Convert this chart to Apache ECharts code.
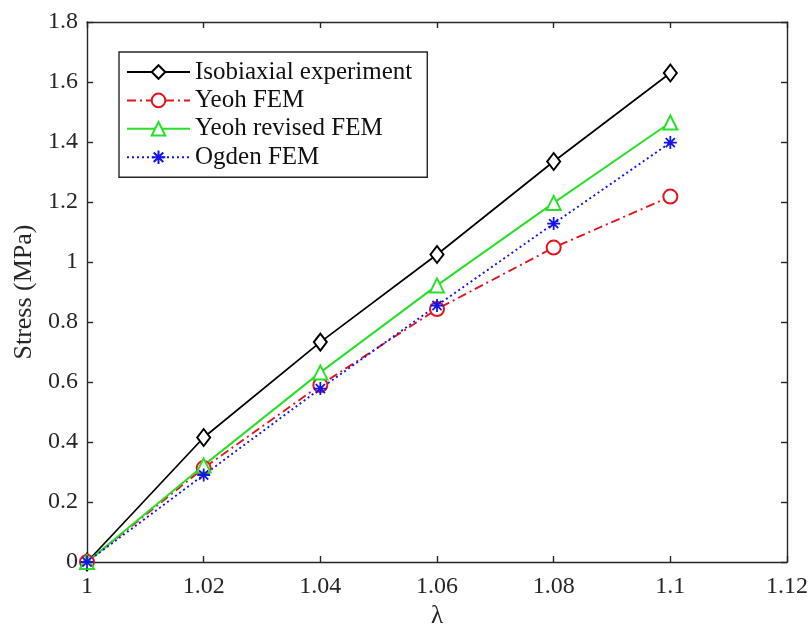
<!DOCTYPE html>
<html><head><meta charset="utf-8">
<script src="https://cdn.jsdelivr.net/npm/echarts@6/dist/echarts.min.js"></script>
<style>html,body{margin:0;padding:0;background:#fff}#c{width:811px;height:625px}</style>
</head><body><div id="c"></div>
<script>
const lambda = [1, 1.02, 1.04, 1.06, 1.08, 1.1];
const isobiaxial = [0, 0.415, 0.733, 1.025, 1.335, 1.63];
const yeohFEM = [0, 0.313, 0.59, 0.843, 1.048, 1.218];
const yeohRevised = [0, 0.322, 0.632, 0.922, 1.197, 1.465];
const ogdenFEM = [0, 0.29, 0.578, 0.855, 1.128, 1.398];
const xTicks = [1, 1.02, 1.04, 1.06, 1.08, 1.1, 1.12];
const yTicks = [0, 0.2, 0.4, 0.6, 0.8, 1, 1.2, 1.4, 1.6, 1.8];

const font = 'Liberation Serif';
const star = 'path://M0,-10L0,10M-10,0L10,0M-7,-7L7,7M-7,7L7,-7';
const pair = a => lambda.map((x, i) => [x, a[i]]);
const fmt = v => { const r = Math.round(v * 100) / 100; return String(r); };

const chart = echarts.init(document.getElementById('c'));
const axisCommon = {
  type: 'value',
  axisLine: { show: true, onZero: false, lineStyle: { color: '#262626', width: 1.4 } },
  axisTick: { show: true, inside: true, length: 6, lineStyle: { color: '#262626', width: 1.4 } },
  splitLine: { show: false }
};
chart.setOption({
  animation: false,
  grid: { left: 87, top: 22, right: 24, bottom: 63, containLabel: false, outerBoundsMode: 'none' },
  legend: {
    left: 119, top: 52, orient: 'vertical',
    backgroundColor: '#fff',
    borderColor: '#262626', borderWidth: 1.4,
    padding: [7, 15, 7, 7],
    itemWidth: 63, itemHeight: 17, itemGap: 2.4,
    textStyle: { fontFamily: font, fontSize: 25, lineHeight: 26, color: '#111' },
    data: ['Isobiaxial experiment', 'Yeoh FEM', 'Yeoh revised FEM', 'Ogden FEM']
  },
  xAxis: [
    Object.assign({}, axisCommon, {
      min: 1, max: 1.12, interval: 0.02, position: 'bottom',
      name: 'λ', nameLocation: 'middle', nameGap: 40,
      nameTextStyle: { fontFamily: font, fontSize: 25, color: '#262626' },
      axisLabel: { fontFamily: font, fontSize: 24, color: '#262626', margin: 13, formatter: fmt }
    }),
    Object.assign({}, axisCommon, {
      min: 1, max: 1.12, interval: 0.02, position: 'top', axisLabel: { show: false }
    })
  ],
  yAxis: [
    Object.assign({}, axisCommon, {
      min: 0, max: 1.8, interval: 0.2, position: 'left',
      name: 'Stress (MPa)', nameLocation: 'middle', nameGap: 41,
      nameTextStyle: { fontFamily: font, fontSize: 26, color: '#262626' },
      axisLabel: { fontFamily: font, fontSize: 24, color: '#262626', margin: 9, formatter: fmt }
    }),
    Object.assign({}, axisCommon, {
      min: 0, max: 1.8, interval: 0.2, position: 'right', axisLabel: { show: false }
    })
  ],
  series: [
    {
      name: 'Isobiaxial experiment', type: 'line', data: pair(isobiaxial),
      symbol: 'emptyDiamond', symbolSize: [13, 17],
      lineStyle: { color: '#000', width: 1.7 },
      itemStyle: { color: '#000', borderColor: '#000', borderWidth: 1.5 }
    },
    {
      name: 'Yeoh FEM', type: 'line', data: pair(yeohFEM),
      symbol: 'emptyCircle', symbolSize: 14,
      lineStyle: { color: '#e3141e', width: 1.9, type: [9, 4, 2, 4] },
      itemStyle: { color: '#e3141e', borderColor: '#e3141e', borderWidth: 1.6 }
    },
    {
      name: 'Yeoh revised FEM', type: 'line', data: pair(yeohRevised),
      symbol: 'emptyTriangle', symbolSize: 14,
      lineStyle: { color: '#28e028', width: 2 },
      itemStyle: { color: '#28e028', borderColor: '#28e028', borderWidth: 1.6 }
    },
    {
      name: 'Ogden FEM', type: 'line', data: pair(ogdenFEM),
      symbol: star, symbolSize: 13,
      lineStyle: { color: '#1414e6', width: 1.9, type: [2, 3] },
      itemStyle: { color: '#1414e6', borderColor: '#1414e6', borderWidth: 1.8 }
    }
  ]
});
</script></body></html>
